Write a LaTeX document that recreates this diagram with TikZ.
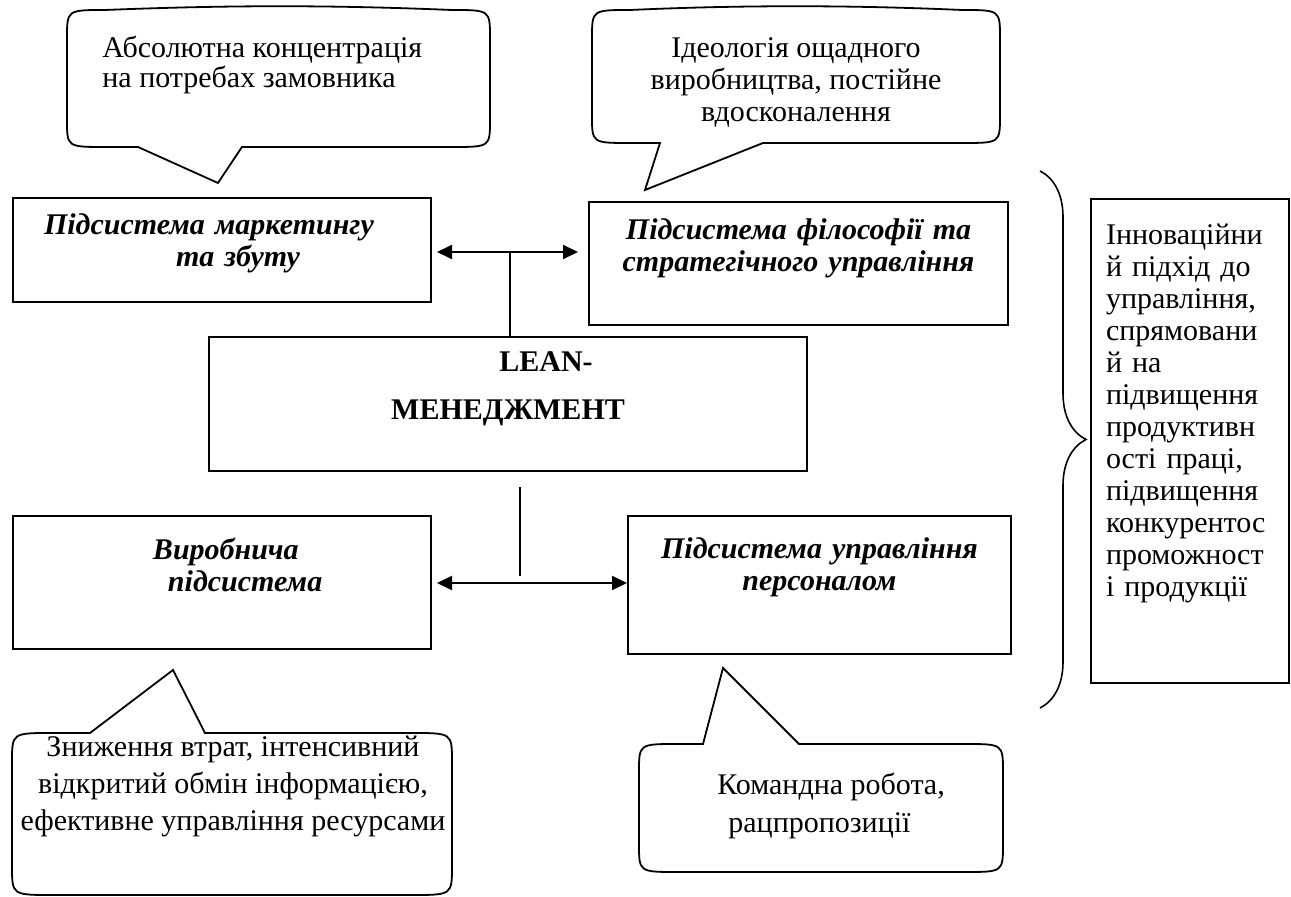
\documentclass[tikz,border=0pt]{standalone}
\usepackage{fontspec}
\setmainfont{Liberation Serif}
\usetikzlibrary{positioning,arrows.meta,decorations.pathreplacing}
\tikzset{
  >={Triangle[length=7.5pt,width=7pt]},
  sysbox/.style={draw, line width=1pt, inner sep=0pt, anchor=north west,
    font=\fontsize{15pt}{16pt}\selectfont\bfseries\itshape},
  note/.style={inner sep=0pt, font=\fontsize{15pt}{16pt}\selectfont},
  bubble/.style={draw, line width=0.9pt},
  link/.style={line width=1pt},
}

\begin{document}
\begin{tikzpicture}[x=0.5pt, y=-0.5pt]
    \useasboundingbox (0,0) rectangle (1291,897);
    % subsystems
    \node[sysbox, align=left, text width=209pt, text height=18.5pt, text depth=33.5pt]
      (mark) at (12,197) {\hspace*{15.5pt}Підсистема маркетингу\\\hspace*{81.5pt}та збуту};
    \node[sysbox, align=center, text width=209.5pt, text height=19pt, text depth=42.5pt]
      (phil) at (588,201) {Підсистема філософії та\\стратегічного управління};
    \node[sysbox, font=\fontsize{15pt}{24pt}\selectfont\bfseries, align=center,
      text width=299pt, text height=17.5pt, text depth=49.5pt]
      (lean) at (208,336) {\hspace*{38pt}LEAN-\\МЕНЕДЖМЕНТ};
    \node[sysbox, align=left, text width=209pt, text height=22pt, text depth=44.5pt]
      (vyr) at (12,515) {\hspace*{70pt}Виробнича\\\hspace*{77.5pt}підсистема};
    \node[sysbox, align=center, text width=191.5pt, text height=21.5pt, text depth=47.5pt]
      (pers) at (627,515) {Підсистема управління\\персоналом};
    \node[sysbox, font=\fontsize{15pt}{16pt}\selectfont, align=left, inner xsep=7.5pt,
      text width=84pt, text height=23pt, text depth=219pt]
      (concl) at (1090,198) {Інноваційни\\й підхід до\\управління,\\спрямовани\\й на\\підвищення\\продуктивн\\ості праці,\\підвищення\\конкурентос\\проможност\\і продукції};

    % links
    \coordinate (jt) at (510,252);
    \coordinate (jb) at (520,583);
    \draw[link, <->, shorten <=2.5pt, shorten >=5pt] (mark.east |- jt) -- (phil.west |- jt);
    \draw[link] (jt) -- (lean.north -| jt);
    \draw[link, <->, shorten <=2.5pt] (vyr.east |- jb) -- (pers.west |- jb);
    \draw[link, shorten <=7.5pt, shorten >=3.5pt] (lean.south -| jb) -- (jb);

    % callouts
    \draw[bubble] (138,147) -- (218,183) -- (242,147) -- (452,147)
      .. controls (490,147) .. (490,120) -- (490,38) .. controls (490,10) .. (452,10)
      .. controls (330,5) and (230,5) .. (105,10) .. controls (67,10) .. (67,38)
      -- (67,120) .. controls (67,147) .. (105,147) -- cycle;
    \node[note, font=\fontsize{15pt}{15pt}\selectfont, anchor=base west, align=left] (needs) at (102,88)
      {Абсолютна концентрація\\на потребах замовника};

    \draw[bubble] (660,143) -- (645,190) -- (763,143) -- (962,143)
      .. controls (1000,143) .. (1000,116) -- (1000,38) .. controls (1000,10) .. (962,10)
      .. controls (850,5) and (740,5) .. (630,10) .. controls (592,10) .. (592,38)
      -- (592,116) .. controls (592,143) .. (630,143) -- cycle;
    \node[note, anchor=base, align=center] (ideo) at (796,122)
      {Ідеологія ощадного\\виробництва, постійне\\вдосконалення};

    \draw[bubble] (90,733) -- (173,670) -- (205,733) -- (412,733)
      .. controls (452,733) .. (452,762) -- (452,866) .. controls (452,895) .. (412,895)
      -- (52,895) .. controls (12,895) .. (12,866) -- (12,762) .. controls (12,733) .. (52,733) -- cycle;
    \node[note, font=\fontsize{15pt}{18.5pt}\selectfont, anchor=base, align=center] (waste) at (233,830)
      {Зниження втрат, інтенсивний\\відкритий обмін інформацією,\\ефективне управління ресурсами};

    \draw[bubble] (703,744) -- (723,668) -- (799,744) -- (965,744)
      .. controls (1003,744) .. (1003,772) -- (1003,844) .. controls (1003,872) .. (965,872)
      -- (677,872) .. controls (639,872) .. (639,844) -- (639,772) .. controls (639,744) .. (677,744) -- cycle;
    \node[note, font=\fontsize{15pt}{19pt}\selectfont, anchor=base west, align=left] (team) at (717,832)
      {Командна робота,\\\hspace*{5.5pt}рацпропозиції};

    % brace
    \draw[decorate, decoration={brace, amplitude=23pt}, line width=0.8pt] (1040,171) -- (1040,708);
\end{tikzpicture}
\end{document}
